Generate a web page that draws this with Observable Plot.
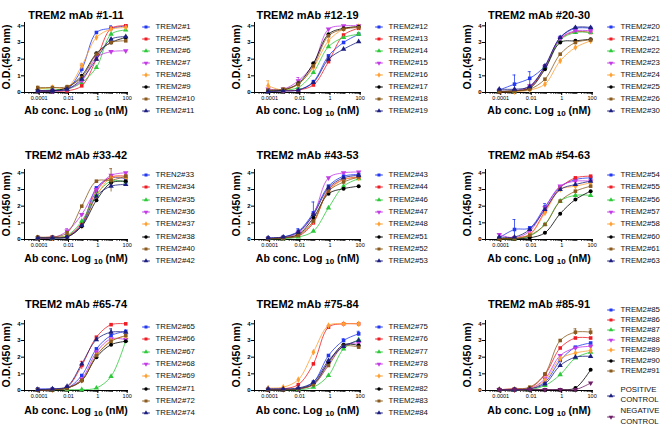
<!DOCTYPE html>
<html><head><meta charset="utf-8">
<script src="https://cdn.jsdelivr.net/npm/d3@7"></script>
<script src="https://cdn.jsdelivr.net/npm/@observablehq/plot@0.6"></script>
<style>
body{margin:0;background:#fff;font-family:"Liberation Sans",Arial,sans-serif;color:#000;}
#root{position:relative;width:669px;height:429px;overflow:hidden;}
.title{position:absolute;font-weight:bold;font-size:11px;white-space:nowrap;transform:translate(-50%,-50%);}
.xlab{position:absolute;font-weight:bold;font-size:10.5px;white-space:nowrap;transform:translate(-50%,-50%);}
.xlab span{font-size:8px;position:relative;top:2px;}
.ylab{position:absolute;font-weight:bold;font-size:10.5px;white-space:nowrap;transform:translate(-50%,-50%) rotate(-90deg);}
.leg{position:absolute;font-size:7.8px;line-height:10.6px;white-space:nowrap;transform:translateY(-50%);color:#111;}
.legsym{position:absolute;}
</style>
</head><body><div id="root"></div>
<script>
// ---------- data ----------
const concentrations = [0.00008, 0.0008, 0.008, 0.08, 0.8, 8, 80];
const xTicks = [0.0001, 0.01, 1, 100];
const xTickLabels = ["0.0001", "0.01", "1", "100"];
const yTicks = [0, 1, 2, 3, 4];
const titles = ["TREM2 mAb #1-11","TREM2 mAb #12-19","TREM2 mAb #20-30","TREM2 mAb #33-42","TREM2 mAb #43-53","TREM2 mAb #54-63","TREM2 mAb #65-74","TREM2 mAb #75-84","TREM2 mAb #85-91"];

const labels1 = ["TREM2#1","TREM2#5","TREM2#6","TREM2#7","TREM2#8","TREM2#9","TREM2#10","TREM2#11"];
const od1 = [
 [0.1,0.1,0.2,1.4,3.6,3.85,4.0],
 [0.1,0.1,0.1,0.4,2.0,3.85,4.0],
 [0.25,0.2,0.2,0.6,1.5,3.5,3.75],
 [0.1,0.1,0.2,0.7,2.1,2.45,2.5],
 [0.2,0.3,0.3,1.6,3.3,3.8,3.9],
 [0.1,0.1,0.3,1.0,2.35,3.0,3.3],
 [0.3,0.3,0.35,0.9,2.3,3.0,3.1],
 [0.1,0.1,0.2,0.8,2.0,3.2,3.35]];
const err1 = [[0,3,0.25],[4,3,0.15],[0,5,0.15]];

const labels2 = ["TREM2#12","TREM2#13","TREM2#14","TREM2#15","TREM2#16","TREM2#17","TREM2#18","TREM2#19"];
const od2 = [
 [0.1,0.1,0.15,0.65,2.2,3.0,3.5],
 [0.1,0.1,0.15,0.45,1.85,3.45,3.85],
 [0.15,0.15,0.3,1.2,2.75,3.3,3.5],
 [0.2,0.2,0.7,1.7,3.8,4.0,4.0],
 [0.4,0.15,0.5,1.5,3.1,3.8,3.95],
 [0.1,0.15,0.55,1.75,3.5,3.85,3.95],
 [0.15,0.2,0.5,1.6,3.4,3.8,3.9],
 [0.05,0.1,0.15,0.6,2.0,2.6,3.05]];
const err2 = [[4,0,0.3],[3,2,0.2]];

const labels3 = ["TREM2#20","TREM2#21","TREM2#22","TREM2#23","TREM2#24","TREM2#25","TREM2#26","TREM2#30"];
const od3 = [
 [0.15,0.5,0.85,1.6,3.3,3.85,3.85],
 [0.05,0.1,0.3,1.5,3.2,3.65,3.6],
 [0.1,0.1,0.4,1.5,3.15,3.6,3.6],
 [0.1,0.1,0.4,1.55,3.25,3.7,3.7],
 [0.05,0.05,0.15,0.5,1.9,2.7,3.1],
 [0.05,0.1,0.25,1.4,3.0,3.1,3.2],
 [0.05,0.1,0.2,0.8,2.3,3.0,3.15],
 [0.2,0.2,0.35,1.6,3.3,3.9,3.9]];
const err3 = [[0,1,0.55],[0,2,0.4]];

const labels4 = ["TREN2#33","TREM2#34","TREM2#35","TREM2#36","TREM2#37","TREM2#38","TREM2#40","TREM2#42"];
const od4 = [
 [0.1,0.1,0.2,0.9,3.1,3.7,3.65],
 [0.1,0.15,0.2,1.0,2.9,3.75,3.8],
 [0.1,0.1,0.25,1.1,2.7,3.5,3.45],
 [0.1,0.1,0.5,1.5,3.0,3.85,4.0],
 [0.1,0.1,0.2,0.8,2.6,3.7,3.7],
 [0.1,0.1,0.15,0.8,2.35,3.4,3.5],
 [0.15,0.15,0.4,2.0,3.5,3.55,3.8],
 [0.1,0.1,0.15,0.85,2.6,3.2,3.3]];
const err4 = [[6,5,0.7],[3,2,0.15]];

const labels5 = ["TREM2#43","TREM2#44","TREM2#46","TREM2#47","TREM2#48","TREM2#51","TREM2#52","TREM2#53"];
const od5 = [
 [0.1,0.15,0.5,1.6,3.2,3.8,3.9],
 [0.05,0.1,0.2,1.0,3.0,3.6,3.75],
 [0.05,0.05,0.15,0.5,1.9,3.2,3.65],
 [0.05,0.1,0.4,1.5,3.7,4.0,4.05],
 [0.05,0.1,0.3,1.1,2.9,3.6,3.7],
 [0.05,0.1,0.3,1.3,2.75,3.05,3.2],
 [0.05,0.1,0.25,1.1,2.9,3.45,3.75],
 [0.1,0.15,0.45,1.5,3.1,3.7,3.85]];
const err5 = [[0,3,0.65],[0,2,0.15]];

const labels6 = ["TREM2#54","TREM2#55","TREM2#56","TREM2#57","TREM2#58","TREM2#60","TREM2#61","TREM2#63"];
const od6 = [
 [0.1,0.6,0.7,1.95,3.15,3.6,3.7],
 [0.05,0.1,0.3,1.7,3.1,3.7,3.8],
 [0.05,0.05,0.2,0.9,2.3,2.65,2.65],
 [0.3,0.1,0.5,1.9,3.2,3.5,3.5],
 [0.05,0.1,0.3,1.6,3.0,3.2,3.4],
 [0.05,0.05,0.1,0.4,1.55,2.4,2.9],
 [0.05,0.05,0.25,0.9,2.3,2.9,3.2],
 [0.15,0.15,0.6,1.8,3.0,3.3,3.5]];
const err6 = [[0,1,0.6],[0,3,0.2]];

const labels7 = ["TREM2#65","TREM2#66","TREM2#67","TREM2#68","TREM2#69","TREM2#71","TREM2#72","TREM2#74"];
const od7 = [
 [0.1,0.1,0.15,0.9,2.5,3.3,3.55],
 [0.05,0.05,0.2,1.5,3.2,3.95,4.0],
 [0.05,0.05,0.05,0.05,0.15,0.85,3.0],
 [0.05,0.05,0.15,0.7,2.3,3.1,3.05],
 [0.05,0.05,0.15,0.6,2.1,3.0,3.25],
 [0.05,0.05,0.15,0.6,2.0,2.75,2.95],
 [0.05,0.05,0.15,0.6,2.1,2.95,3.3],
 [0.05,0.1,0.25,1.6,3.05,3.5,3.5]];
const err7 = [[1,3,0.25],[7,5,0.2]];

const labels8 = ["TREM2#75","TREM2#76","TREM2#77","TREM2#78","TREM2#79","TREM2#82","TREM2#83","TREM2#84"];
const od8 = [
 [0.1,0.1,0.1,0.5,2.1,3.0,3.4],
 [0.05,0.1,0.35,1.6,3.8,4.0,4.0],
 [0.05,0.05,0.05,0.2,0.9,2.5,3.05],
 [0.05,0.05,0.1,0.35,1.6,2.7,2.85],
 [0.15,0.2,0.65,2.3,3.9,4.0,4.0],
 [0.05,0.05,0.1,0.4,1.7,2.75,2.7],
 [0.05,0.05,0.1,0.35,1.5,2.65,2.6],
 [0.1,0.1,0.15,0.5,1.8,2.65,3.0]];
const err8 = [[0,6,0.15],[0,5,0.1]];

const labels9 = ["TREM2#85","TREM2#86","TREM2#87","TREM2#88","TREM2#89","TREM2#90","TREM2#91","POSITIVE CONTROL","NEGATIVE CONTROL"];
const od9 = [
 [0.05,0.05,0.1,0.5,1.8,2.6,2.85],
 [0.05,0.1,0.15,0.95,2.55,3.15,3.15],
 [0.05,0.05,0.05,0.3,0.95,1.95,2.3],
 [0.05,0.05,0.1,0.7,2.1,2.55,2.65],
 [0.05,0.05,0.1,0.6,1.9,2.25,2.4],
 [0.05,0.05,0.05,0.05,0.05,0.15,1.25],
 [0.05,0.1,0.2,1.0,3.0,3.5,3.5],
 [0.05,0.05,0.1,0.4,1.5,2.0,2.05],
 [0.05,0.05,0.05,0.05,0.05,0.05,0.45]];
const err9 = [[6,6,0.2],[6,5,0.2]];

// ---------- styles ----------
const seriesColors = ["#2238f2","#ee1c24","#2ec93a","#c23be6","#ffa033","#000000","#8a5a1e","#1c1f80","#6e1e66"];
const seriesSymbols = ["square","square","triangle","triangle","diamond","circle","square","triangle","triangle"];
const seriesRotate = [0,0,0,180,0,0,0,0,180];

// ---------- layout ----------
const colAxisX = [24, 254, 485];
const colPlotW = [104, 107, 108];
const rowZeroY = [92, 239, 390];
const rowTitleY = [15, 155, 304];
const rowXLabelY = [110, 258, 410];
const rowLegendY = [26.7, 175, 327];
const rowLegendStep = [12.0, 12.3, 12.3];
const xDomain = [1e-5, 123];
const yDomain = [0, 4.2];
const innerH = 70, mTop = 4, mBottom = 12, mLeft = 24, mRight = 6;

const minorTicks = [];
for (let k = -5; k <= 2; k++) for (let m = 1; m <= 9; m++) {
  const v = m * Math.pow(10, k);
  if (v >= xDomain[0] && v <= xDomain[1]) minorTicks.push(v);
}

const panels = [
  {labels: labels1, values: od1, errors: err1},
  {labels: labels2, values: od2, errors: err2},
  {labels: labels3, values: od3, errors: err3},
  {labels: labels4, values: od4, errors: err4},
  {labels: labels5, values: od5, errors: err5},
  {labels: labels6, values: od6, errors: err6},
  {labels: labels7, values: od7, errors: err7},
  {labels: labels8, values: od8, errors: err8},
  {labels: labels9, values: od9, errors: err9}
];

const root = document.getElementById("root");
function addDiv(cls, html, left, top) {
  const d = document.createElement("div");
  d.className = cls; d.innerHTML = html;
  d.style.left = left + "px"; d.style.top = top + "px";
  root.appendChild(d); return d;
}

panels.forEach((p, k) => {
  const col = k % 3, row = Math.floor(k / 3);
  const ax = colAxisX[col], pw = colPlotW[col], y0 = rowZeroY[row];
  const marks = [
    Plot.axisX(minorTicks, {tickSize: 2, strokeWidth: 0.7, tickFormat: () => "", label: null}),
    Plot.axisX(xTicks, {tickSize: 3, tickPadding: 1, fontSize: 5.5, tickFormat: d => xTickLabels[xTicks.indexOf(d)], label: null}),
    Plot.axisY(yTicks, {tickSize: 3, tickPadding: 1, fontSize: 6, fontWeight: "bold", label: null}),
    Plot.ruleY([0], {stroke: "#000", strokeWidth: 1}),
    Plot.ruleX([xDomain[0]], {stroke: "#000", strokeWidth: 1})
  ];
  p.values.forEach((vals, i) => {
    const data = vals.map((v, j) => ({x: concentrations[j], y: v}));
    const errs = p.errors.filter(e => e[0] === i).map(e => ({x: concentrations[e[1]], y1: vals[e[1]] - e[2], y2: vals[e[1]] + e[2]}));
    marks.push(Plot.line(data, {x: "x", y: "y", stroke: seriesColors[i], strokeWidth: 0.8, curve: "catmull-rom"}));
    if (errs.length) {
      marks.push(Plot.ruleX(errs, {x: "x", y1: "y1", y2: "y2", stroke: seriesColors[i], strokeWidth: 0.8}));
      marks.push(Plot.ruleY(errs, {y: "y2", x1: d => d.x / 1.25, x2: d => d.x * 1.25, stroke: seriesColors[i], strokeWidth: 0.8}));
    }
    marks.push(Plot.dot(data, {x: "x", y: "y", fill: seriesColors[i], stroke: "none", symbol: seriesSymbols[i], r: 2, rotate: seriesRotate[i]}));
  });
  const svg = Plot.plot({
    width: mLeft + pw + mRight, height: mTop + innerH + mBottom,
    marginLeft: mLeft, marginRight: mRight, marginTop: mTop, marginBottom: mBottom,
    x: {type: "log", domain: xDomain, axis: null},
    y: {domain: yDomain, axis: null},
    style: {fontFamily: "'Liberation Sans', Arial, sans-serif", background: "transparent", overflow: "visible", position: "absolute", left: (ax - mLeft) + "px", top: (y0 - innerH - mTop) + "px"},
    marks
  });
  root.appendChild(svg);

  const cx = ax + pw / 2;
  addDiv("title", titles[k], cx, rowTitleY[row]);
  addDiv("xlab", 'Ab conc. Log <span>10</span> (nM)', cx, rowXLabelY[row]);
  addDiv("ylab", "O.D.(450 nm)", ax - 18.5, y0 - innerH / 2);

  // legend
  const mx = ax + pw + 17.5, tx = ax + pw + 27.5;
  p.labels.forEach((lab, i) => {
    let my;
    if (k === 8) my = i < 7 ? 310 + i * 10.1 : (i === 7 ? 395.6 : 417.2);
    else my = rowLegendY[row] + i * rowLegendStep[row];
    const s = d3.create("svg").attr("class", "legsym").attr("width", 10).attr("height", 8)
      .style("left", (mx - 5) + "px").style("top", (my - 4) + "px");
    s.append("line").attr("x1", 1.2).attr("x2", 8.8).attr("y1", 4).attr("y2", 4).attr("stroke", seriesColors[i]).attr("stroke-width", 1);
    const symMap = {square: d3.symbolSquare, triangle: d3.symbolTriangle, diamond: d3.symbolDiamond, circle: d3.symbolCircle};
    s.append("path").attr("d", d3.symbol(symMap[seriesSymbols[i]], 9)()).attr("fill", seriesColors[i])
      .attr("transform", `translate(5,4) rotate(${seriesRotate[i]})`);
    root.appendChild(s.node());
    addDiv("leg", lab.includes(" ") ? lab.split(" ").join("<br>") : lab, tx, my);
  });
});
</script>
</body></html>
